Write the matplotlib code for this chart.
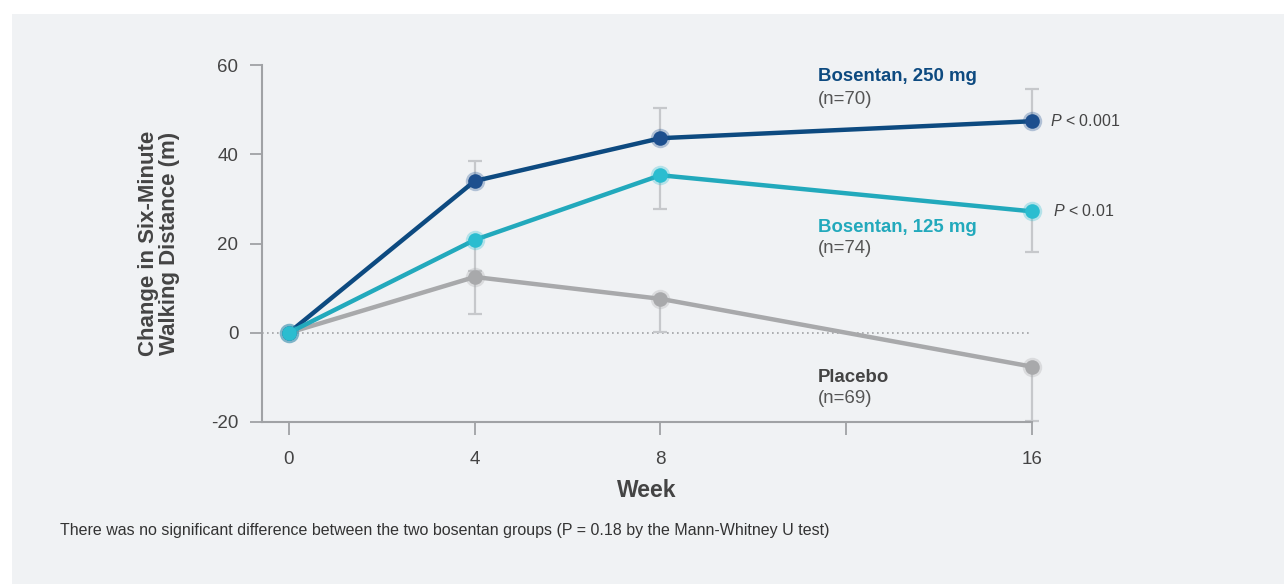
import matplotlib.pyplot as plt
from matplotlib.patches import Rectangle

plt.rcParams['font.family'] = ['Liberation Sans', 'DejaVu Sans']
plt.rcParams['axes.unicode_minus'] = False
plt.rcParams['mathtext.fontset'] = 'custom'
plt.rcParams['mathtext.it'] = 'Liberation Sans:italic'
plt.rcParams['mathtext.rm'] = 'Liberation Sans'

# weeks and mean change in 6-minute walk distance (m)
weeks = [0, 4, 8, 16]
bos250 = [0, 34, 43.6, 47.4]
bos125 = [0, 20.8, 35.3, 27.2]
placebo = [0, 12.5, 7.6, -7.6]

# one-sided error bars (upper for 250 mg, lower for 125 mg and placebo)
bos250_err = [0, 4.5, 6.7, 7.2]
bos125_err = [0, 7.0, 7.6, 9.0]
placebo_err = [0, 8.2, 7.4, 12.2]

c250 = '#0d4a80'
c125 = '#22a9bc'
cpla = '#a8a9ab'
err_col = '#c6c8cb'
bg = '#f0f2f4'

fig = plt.figure(figsize=(12.84, 5.84), dpi=100)
fig.patch.set_facecolor('white')
fig.patches.append(Rectangle((12 / 1284, 0), 1, 1 - 14 / 584, transform=fig.transFigure,
                             facecolor=bg, edgecolor='none', zorder=-10))

ax = fig.add_axes([262 / 1284, 1 - 422 / 584, (1032 - 262) / 1284, (422 - 65) / 584])
ax.set_facecolor('none')

# zero reference line
ax.axhline(0, color='#a0a2a5', lw=1.2, ls=(0, (1, 2)), zorder=1)

# error bars
for vals, err, upper in [(bos250, bos250_err, True),
                         (bos125, bos125_err, False),
                         (placebo, placebo_err, False)]:
    yerr = [[0] * 3, err[1:]] if upper else [err[1:], [0] * 3]
    eb = ax.errorbar(weeks[1:], vals[1:], yerr=yerr, fmt='none', ecolor=err_col,
                     elinewidth=1.6, capsize=5, capthick=1.6, zorder=2)
    for art in eb.lines[1] + eb.lines[2]:
        art.set_clip_on(False)

# series lines with soft-edged markers
for vals, col, mcol, z in [(placebo, cpla, '#a8a9ab', 3),
                           (bos250, c250, '#1d4f8e', 4),
                           (bos125, c125, '#2bbdd0', 5)]:
    ax.plot(weeks, vals, color=col, lw=3.2, zorder=z, solid_capstyle='round',
            clip_on=False)
    ax.plot(weeks, vals, ls='none', marker='o', ms=14, color=mcol, alpha=0.3,
            markeredgewidth=0, zorder=z + 0.1, clip_on=False)
    ax.plot(weeks, vals, ls='none', marker='o', ms=10.5, color=mcol,
            markeredgewidth=0, zorder=z + 0.2, clip_on=False)

ax.set_xlim(-0.58, 16)
ax.set_ylim(-20, 60)
ax.set_xticks([0, 4, 8, 12, 16])
ax.set_xticklabels(['0', '4', '8', '', '16'])
ax.set_yticks([-20, 0, 20, 40, 60])

for side in ['top', 'right']:
    ax.spines[side].set_visible(False)
for side in ['left', 'bottom']:
    ax.spines[side].set_color('#a0a2a5')
    ax.spines[side].set_linewidth(1.5)
ax.tick_params(axis='both', direction='out', length=9, width=1.3, color='#a0a2a5',
               labelsize=13.5, labelcolor='#444444', pad=8)
ax.tick_params(axis='x', pad=12)

ax.set_xlabel('Week', fontsize=16.5, fontweight='bold', color='#444444', labelpad=8)
ax.set_ylabel('Change in Six-Minute\nWalking Distance (m)', fontsize=16,
              fontweight='bold', color='#444444', labelpad=22, linespacing=1.05)

# group labels
lx = 11.39
ax.text(lx, 57.5, 'Bosentan, 250 mg', color=c250, fontsize=13.4, fontweight='bold',
        va='center')
ax.text(lx, 52.3, '(n=70)', color='#555555', fontsize=13.4, va='center')
ax.text(lx, 23.5, 'Bosentan, 125 mg', color=c125, fontsize=13.4, fontweight='bold',
        va='center')
ax.text(lx, 18.8, '(n=74)', color='#555555', fontsize=13.4, va='center')
ax.text(lx, -10.1, 'Placebo', color='#444444', fontsize=13.4, fontweight='bold',
        va='center')
ax.text(lx, -14.8, '(n=69)', color='#555555', fontsize=13.4, va='center')

# significance vs placebo
ax.text(16.38, bos250[-1], '$\\mathit{P}$ < 0.001', color='#444444', fontsize=11.5,
        va='center')
ax.text(16.45, bos125[-1], '$\\mathit{P}$ < 0.01', color='#444444', fontsize=11.5,
        va='center')

fig.text(60 / 1284, 1 - 531 / 584,
         'There was no significant difference between the two bosentan groups '
         '(P = 0.18 by the Mann-Whitney U test)',
         fontsize=11.5, color='#333333', va='center')

fig.savefig('out.png', dpi=100, facecolor=fig.get_facecolor())
